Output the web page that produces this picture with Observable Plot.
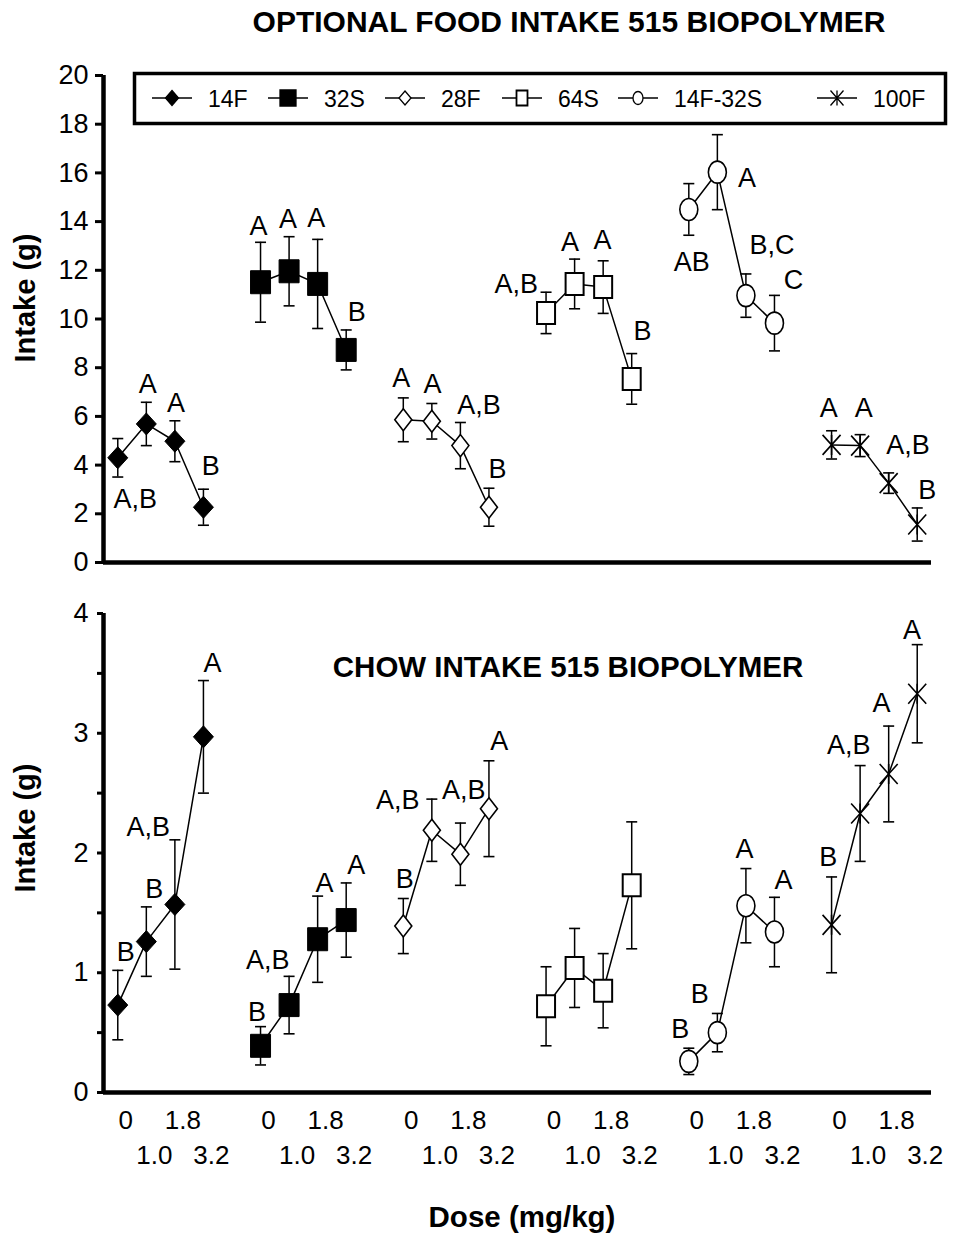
<!DOCTYPE html>
<html><head><meta charset="utf-8">
<script src="https://cdn.jsdelivr.net/npm/d3@7"></script>
<script src="https://cdn.jsdelivr.net/npm/@observablehq/plot@0.6"></script>
<style>
  body { margin: 0; background: #fff; }
  #wrap { position: relative; width: 953px; height: 1237px; font-family: "Liberation Sans", Arial, sans-serif; }
  #wrap > svg { position: absolute; left: 0; }
</style>
</head><body><div id="wrap"></div>
<script>
// ---------- data ----------
const groups = ["14F", "32S", "28F", "64S", "14F-32S", "100F"];
const doses = ["0", "1.0", "1.8", "3.2"];

// Optional food intake (g), mean and SEM, rows follow `groups`, columns follow `doses`
const optionalMean = [
  [4.30, 5.69, 4.98, 2.27],
  [11.51, 11.96, 11.44, 8.73],
  [5.86, 5.80, 4.80, 2.27],
  [10.25, 11.44, 11.31, 7.54],
  [14.50, 16.03, 10.96, 9.83],
  [4.83, 4.80, 3.26, 1.56]
];
const optionalErr = [
  [0.79, 0.89, 0.84, 0.74],
  [1.64, 1.42, 1.83, 0.82],
  [0.90, 0.73, 0.95, 0.78],
  [0.85, 1.02, 1.08, 1.04],
  [1.06, 1.54, 0.89, 1.14],
  [0.58, 0.45, 0.42, 0.68]
];
// Chow intake (g)
const chowMean = [
  [0.73, 1.26, 1.57, 2.97],
  [0.39, 0.73, 1.28, 1.44],
  [1.39, 2.19, 1.99, 2.37],
  [0.72, 1.04, 0.85, 1.73],
  [0.26, 0.50, 1.56, 1.34],
  [1.40, 2.33, 2.66, 3.33]
];
const chowErr = [
  [0.29, 0.29, 0.54, 0.47],
  [0.16, 0.24, 0.36, 0.31],
  [0.23, 0.26, 0.26, 0.40],
  [0.33, 0.33, 0.31, 0.53],
  [0.11, 0.16, 0.31, 0.29],
  [0.40, 0.40, 0.40, 0.41]
];

const optionalTicks = [0, 2, 4, 6, 8, 10, 12, 14, 16, 18, 20];
const chowTicks = [0, 1, 2, 3, 4];
const chowMinorTicks = [0.5, 1.5, 2.5, 3.5];

// significance letters (text, x in dose-slot units, y in grams)
const optionalLetters = ["A,B","A","A","B", "A","A","A","B", "A","A","A,B","B", "A,B","A","A","B", "AB","A","B,C","C", "A","A","A,B","B"];
const optionalLetterX = [0.61,1.05,2.04,3.26, 4.93,5.96,6.95,8.37, 9.93,11.02,12.65,13.3, 13.96,15.84,16.98,18.38, 20.1,22.04,22.91,23.67, 24.9,26.13,27.68,28.35];
const optionalLetterY = [2.59,7.31,6.54,3.94, 13.81,14.11,14.15,10.28, 7.58,7.31,6.45,3.81, 11.44,13.15,13.21,9.49, 12.33,15.76,13.02,11.58, 6.35,6.35,4.80,2.96];

const chowLetters = ["B","B","A,B","A", "B","A,B","A","A", "B","A,B","A,B","A", "B","B","A","A", "B","A,B","A","A"];
const chowLetterX = [0.28,1.28,1.07,3.32, 4.88,5.25,7.24,8.35, 10.05,9.81,12.12,13.36, 19.7,20.38,21.95,23.32, 24.88,25.6,26.75,27.82];
const chowLetterY = [1.167,1.70,2.216,3.58, 0.67,1.10,1.75,1.90, 1.78,2.44,2.52,2.93, 0.53,0.82,2.03,1.77, 1.965,2.90,3.25,3.86];

// ---------- symbols ----------
function shape(kind, hw, hh) {
  return { draw(ctx) {
    if (kind === "diamond") {
      ctx.moveTo(0, -hh); ctx.lineTo(hw, 0); ctx.lineTo(0, hh); ctx.lineTo(-hw, 0); ctx.closePath();
    } else if (kind === "square") {
      ctx.moveTo(-hw, -hh); ctx.lineTo(hw, -hh); ctx.lineTo(hw, hh); ctx.lineTo(-hw, hh); ctx.closePath();
    } else if (kind === "ellipse") {
      const k = 0.5523;
      ctx.moveTo(hw, 0);
      ctx.bezierCurveTo(hw, k * hh, k * hw, hh, 0, hh);
      ctx.bezierCurveTo(-k * hw, hh, -hw, k * hh, -hw, 0);
      ctx.bezierCurveTo(-hw, -k * hh, -k * hw, -hh, 0, -hh);
      ctx.bezierCurveTo(k * hw, -hh, hw, -k * hh, hw, 0);
      ctx.closePath();
    } else if (kind === "asterisk") {
      ctx.moveTo(-hw, -hh); ctx.lineTo(hw, hh);
      ctx.moveTo(-hw, hh); ctx.lineTo(hw, -hh);
      ctx.moveTo(0, -hh); ctx.lineTo(0, hh);
    } else if (kind === "cap") {
      ctx.moveTo(-hw, 0); ctx.lineTo(hw, 0);
    }
  }};
}
const cap = shape("cap", 5.5, 0);
const markerStyle = {
  "14F":     { kind: "diamond",  hw: 10,  hh: 11,   lw: 6.5, lh: 7.5, fill: "black", sw: 1 },
  "32S":     { kind: "square",   hw: 10,  hh: 11.5, lw: 8,   lh: 8,   fill: "black", sw: 1 },
  "28F":     { kind: "diamond",  hw: 8.5, hh: 11,   lw: 6,   lh: 7,   fill: "white", sw: 1.6 },
  "64S":     { kind: "square",   hw: 9,   hh: 11,   lw: 5.5, lh: 7.5, fill: "white", sw: 2 },
  "14F-32S": { kind: "ellipse",  hw: 9,   hh: 11,   lw: 5,   lh: 6.5, fill: "white", sw: 1.6 },
  "100F":    { kind: "asterisk", hw: 9,   hh: 10,   lw: 6.5, lh: 7.5, fill: "none",  sw: 1.6 }
};

function rows(mean, err) {
  return groups.flatMap((g, gi) => doses.map((d, di) => ({
    group: g, idx: gi * 5 + di, dose: d, mean: mean[gi][di], err: err[gi][di]
  })));
}
function letterRows(t, x, y) { return t.map((s, i) => ({ t: s, x: x[i], y: y[i] })); }

const FONT = '"Liberation Sans", Arial, sans-serif';

function panel({ mean, err, yDomain, ticks, minor, tickSize, tickPadding, letters, height, mt, mb, extra = [] }) {
  const data = rows(mean, err);
  const marks = [
    Plot.ruleX(data, { x: "idx", y1: d => d.mean - d.err, y2: d => d.mean + d.err, stroke: "black", strokeWidth: 1.5 }),
    Plot.dot(data, { x: "idx", y: d => d.mean + d.err, symbol: cap, r: 5, stroke: "black", fill: "none", strokeWidth: 1.6 }),
    Plot.dot(data, { x: "idx", y: d => d.mean - d.err, symbol: cap, r: 5, stroke: "black", fill: "none", strokeWidth: 1.6 }),
    Plot.line(data, { x: "idx", y: "mean", z: "group", stroke: "black", strokeWidth: 1.5 }),
    ...groups.map(g => {
      const s = markerStyle[g];
      return Plot.dot(data.filter(d => d.group === g), {
        x: "idx", y: "mean", symbol: shape(s.kind, s.hw, s.hh), r: 5,
        fill: s.fill, stroke: "black", strokeWidth: s.sw
      });
    }),
    Plot.text(letters, { x: "x", y: "y", text: "t", fontSize: 27, fill: "black" }),
    Plot.axisY({ ticks, tickSize, tickPadding, tickFormat: d3.format("d"), fontSize: 27, strokeWidth: 3, label: null }),
    ...(minor ? [Plot.axisY({ ticks: minor, tickSize, tickFormat: () => "", strokeWidth: 3, label: null })] : []),
    Plot.ruleX([-0.5], { stroke: "black", strokeWidth: 4.5 }),
    Plot.ruleY([yDomain[0]], { stroke: "black", strokeWidth: 4.5 }),
    ...extra
  ];
  return Plot.plot({
    width: 953, height,
    marginLeft: 103, marginRight: 22, marginTop: mt, marginBottom: mb,
    x: { domain: [-0.5, 28.5], axis: null },
    y: { domain: yDomain, axis: null },
    style: { fontFamily: FONT, background: "transparent", color: "black", overflow: "visible" },
    marks
  });
}

const wrap = document.getElementById("wrap");

const topPlot = panel({
  mean: optionalMean, err: optionalErr, yDomain: [0, 20], ticks: optionalTicks,
  tickSize: 8, tickPadding: 7, letters: letterRows(optionalLetters, optionalLetterX, optionalLetterY),
  height: 600, mt: 75, mb: 38
});
topPlot.style.top = "0px";
wrap.appendChild(topPlot);

const doseData = groups.flatMap((g, gi) => doses.map((d, di) => ({ idx: gi * 5 + di, label: d, row: di % 2 })));
const bottomPlot = panel({
  mean: chowMean, err: chowErr, yDomain: [0, 4], ticks: chowTicks, minor: chowMinorTicks,
  tickSize: 6, tickPadding: 9, letters: letterRows(chowLetters, chowLetterX, chowLetterY),
  height: 637, mt: 13, mb: 145,
  extra: [
    Plot.text(doseData.filter(d => d.row === 0), { x: "idx", text: "label", frameAnchor: "bottom", dy: 36, dx: 8, fontSize: 26, fill: "black" }),
    Plot.text(doseData.filter(d => d.row === 1), { x: "idx", text: "label", frameAnchor: "bottom", dy: 71, dx: 8, fontSize: 26, fill: "black" })
  ]
});
bottomPlot.style.top = "600px";
wrap.appendChild(bottomPlot);

// ---------- overlay: titles, axis labels, legend ----------
const ov = d3.select(wrap).append("svg")
  .attr("width", 953).attr("height", 1237)
  .style("top", "0px").style("pointer-events", "none")
  .style("font-family", FONT);

ov.append("text").attr("x", 569).attr("y", 32).attr("text-anchor", "middle")
  .attr("font-size", 30).attr("font-weight", "bold").text("OPTIONAL FOOD INTAKE 515 BIOPOLYMER");
ov.append("text").attr("x", 568).attr("y", 677).attr("text-anchor", "middle")
  .attr("font-size", 29.5).attr("font-weight", "bold").text("CHOW INTAKE 515 BIOPOLYMER");
ov.append("text").attr("transform", "translate(35,298) rotate(-90)").attr("text-anchor", "middle")
  .attr("font-size", 29).attr("font-weight", "bold").text("Intake (g)");
ov.append("text").attr("transform", "translate(35,828) rotate(-90)").attr("text-anchor", "middle")
  .attr("font-size", 29).attr("font-weight", "bold").text("Intake (g)");
ov.append("text").attr("x", 522).attr("y", 1227).attr("text-anchor", "middle")
  .attr("font-size", 29.5).attr("font-weight", "bold").text("Dose (mg/kg)");

// legend
ov.append("rect").attr("x", 134.5).attr("y", 73.5).attr("width", 811).attr("height", 50)
  .attr("fill", "white").attr("stroke", "black").attr("stroke-width", 3.5);
const legendCenters = [172, 288, 405, 522, 638, 837];
groups.forEach((g, i) => {
  const cx = legendCenters[i], cy = 98, s = markerStyle[g];
  ov.append("line").attr("x1", cx - 20).attr("x2", cx + 20).attr("y1", cy).attr("y2", cy)
    .attr("stroke", "black").attr("stroke-width", 1.5);
  const p = d3.path();
  shape(s.kind, s.lw, s.lh).draw(p);
  ov.append("path").attr("d", p.toString()).attr("transform", `translate(${cx},${cy})`)
    .attr("fill", s.fill).attr("stroke", "black").attr("stroke-width", s.kind === "square" && s.fill === "white" ? 1.8 : 1.3);
  ov.append("text").attr("x", cx + 36).attr("y", 107).attr("font-size", 23).text(g);
});
</script>
</body></html>
